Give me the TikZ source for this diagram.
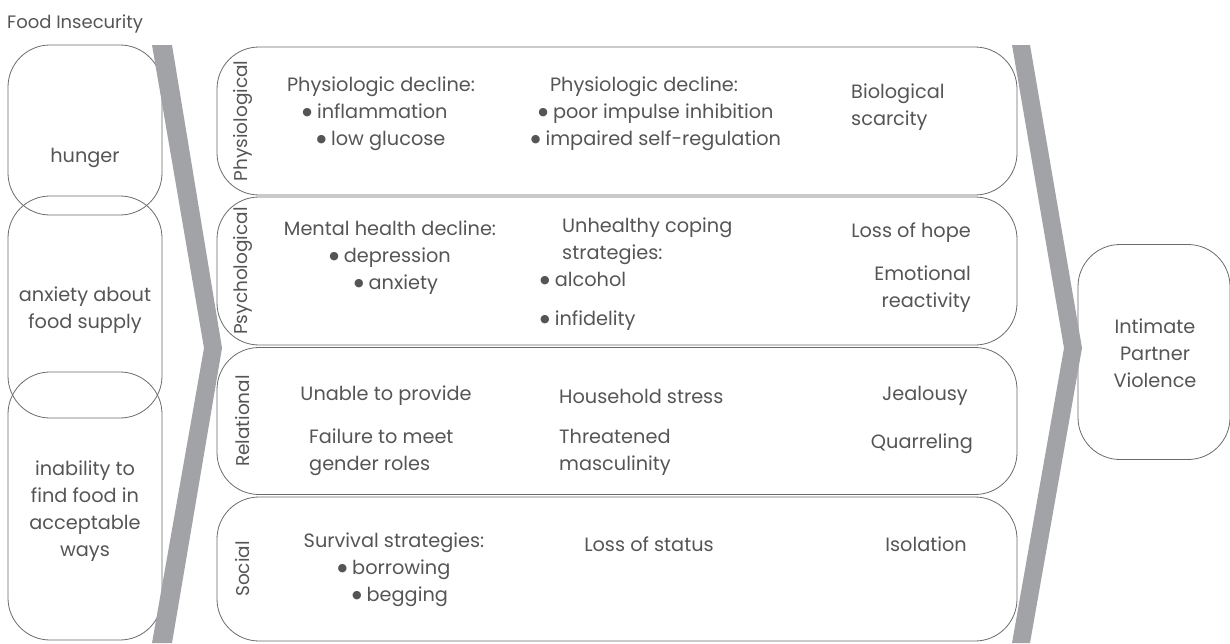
\documentclass[tikz,border=0pt]{standalone}
\usepackage{fontspec}
\setmainfont{Poppins}
\newfontfamily\dvfont{DejaVu Sans}
\newcommand\bul{\raisebox{3.6pt}{\dvfont\fontsize{11}{11}\selectfont ●}\hspace{5pt}}
\definecolor{txt}{HTML}{555555}
\definecolor{edge}{HTML}{6A6A6A}
\definecolor{chev}{HTML}{A2A3A6}
\begin{document}
\begin{tikzpicture}[x=1pt,y=-1pt,
  box/.style={draw=edge,line width=0.8pt,rounded corners=42pt,inner sep=0pt},
  lbl/.style={text=txt,font=\fontsize{19.3}{27}\selectfont,inner sep=0pt},
  side/.style={text=txt,font=\fontsize{18.5}{20}\selectfont,rotate=90,inner sep=0pt},
  chevshape/.style={fill=chev,draw=none}]
\useasboundingbox (0,0) rectangle (1230,643);
% left boxes
\node[box,minimum width=154pt,minimum height=170pt] (hb) at (85,130) {};
\node[box,minimum width=154pt,minimum height=222pt] (ab) at (85,307) {};
\node[box,minimum width=154pt,minimum height=268pt] (ib) at (85,506) {};
% middle boxes
\node[box,minimum width=800pt,minimum height=148pt] (pb) at (617,121) {};
\node[box,minimum width=800pt,minimum height=148pt] (sb) at (617,271) {};
\node[box,minimum width=800pt,minimum height=147pt] (rb) at (617,421) {};
\node[box,minimum width=800pt,minimum height=144pt] (cb) at (617,569) {};
% right box
\node[box,minimum width=152pt,minimum height=215pt] (vb) at (1154,352) {};
% chevrons
\fill[chevshape] (152,45) -- (172,45) -- (222,348) -- (172,643) -- (152,643) -- (204,348) -- cycle;
\fill[chevshape] (1012,45) -- (1030,45) -- (1082,348) -- (1030,643) -- (1012,643) -- (1064,348) -- cycle;
% title
\node[lbl,font=\fontsize{18}{20}\selectfont,anchor=west] (title) at (7,24) {Food Insecurity};
% left texts
\node[lbl,align=center] (hunger) at (85,158) {hunger};
\node[lbl,align=center] (anx) at (85,310) {anxiety about\\food supply};
\node[lbl,align=center] (inab) at (85,511) {inability to\\find food in\\acceptable\\ways};
\node[lbl,align=center] (ipv) at (1155,353) {Intimate\\Partner\\Violence};
% side labels
\node[side] (s1) at (243,121) {Physiological};
\node[side] (s2) at (243,271) {Psychological};
\node[side] (s3) at (243,421) {Relational};
\node[side] (s4) at (243,569) {Social};
% physiological
\node[lbl,align=center] (p1) at (381,114) {Physiologic decline:\\\hspace*{-12pt}\bul inflammation\\\bul low glucose};
\node[lbl,align=center] (p2) at (656,114) {\hspace*{-24pt}Physiologic decline:\\\bul poor impulse inhibition\\\bul impaired self-regulation};
\node[lbl,align=left,anchor=west] (p3) at (851,107) {Biological\\scarcity};
% psychological
\node[lbl,align=center] (q1) at (390,258) {Mental health decline:\\\bul depression\\\hspace*{12pt}\bul anxiety};
\node[lbl,align=left,anchor=north west] (q2a) at (540,218) {\hspace*{22pt}Unhealthy coping\\\hspace*{22pt}strategies:\\\bul alcohol};
\node[lbl,anchor=west] (q2b) at (540,321) {\bul infidelity};
\node[lbl,anchor=east] (q3) at (971,233) {Loss of hope};
\node[lbl,align=right,anchor=east] (q4) at (971,289) {Emotional\\reactivity};
% relational
\node[lbl] (r1) at (386,396) {Unable to provide};
\node[lbl,align=left,anchor=west] (r2) at (309,452) {Failure to meet\\gender roles};
\node[lbl,anchor=west] (r3) at (559,396) {Household stress};
\node[lbl,align=left,anchor=west] (r4) at (559,452) {Threatened\\masculinity};
\node[lbl,anchor=east] (r5) at (968,396) {Jealousy};
\node[lbl,anchor=east] (r6) at (973,444) {Quarreling};
% social
\node[lbl,align=center] (c1) at (394,570) {Survival strategies:\\\bul borrowing\\\hspace*{12pt}\bul begging};
\node[lbl] (c2) at (649,544) {Loss of status};
\node[lbl,anchor=east] (c3) at (967,544) {Isolation};
\end{tikzpicture}
\end{document}
